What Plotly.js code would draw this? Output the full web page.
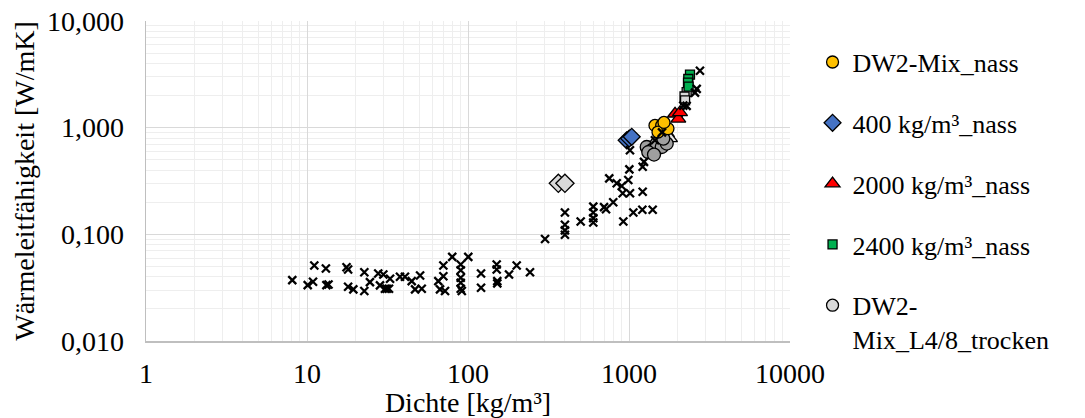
<!DOCTYPE html>
<html>
<head>
<meta charset="utf-8">
<script src="https://cdn.plot.ly/plotly-3.0.1.min.js"></script>
<style>
  html, body { margin: 0; padding: 0; background: #fff; }
  #chart { width: 1085px; height: 418px; }
</style>
</head>
<body>
<div id="chart"></div>
<script>
// Literaturwerte (Kreuze): Dichte [kg/m³] und Wärmeleitfähigkeit [W/mK]
const litDichte = [8.1, 10.1, 10.9, 11.1, 13.1, 13.6, 13.2, 17.6, 18.0, 18.0, 19.4, 22.7, 22.7, 24.6, 27.7, 28.4,
  29.8, 30.5, 31.3, 32.3, 32.8, 37.8, 40.6, 44.7, 46.9, 50.4, 51.6, 65.4, 70.3, 70.3, 67.0, 72.0, 79.8,
  90.1, 90.1, 90.1, 90.1, 90.1, 91.5, 100.4, 120.5, 120.5, 150.7, 150.7, 152, 152, 179.8, 200.6, 242.7,
  301, 400, 400, 400, 400, 501, 600, 600, 600, 600, 700, 720, 798, 754, 839, 901, 914, 922, 990, 1014,
  1005, 1216, 1064, 1210, 1403, 1216, 1239, 1014, 1449, 1603, 2174, 2759, 2633, 2570, 2280];
const litLambda = [0.0372, 0.0334, 0.0359, 0.0510, 0.0478, 0.0339, 0.0334, 0.0492, 0.0468, 0.0323, 0.0305, 0.0441, 0.0294, 0.0356, 0.0429, 0.0332,
  0.0420, 0.0309, 0.0309, 0.0309, 0.0383, 0.0400, 0.0400, 0.0364, 0.0305, 0.0411, 0.0309, 0.0364, 0.0510, 0.0405, 0.0305, 0.0294, 0.0614,
  0.0521, 0.0461, 0.0392, 0.0352, 0.0309, 0.0294, 0.0614, 0.0429, 0.0316, 0.0521, 0.0468, 0.0364, 0.0347, 0.0420, 0.0510, 0.0441,
  0.0904, 0.160, 0.123, 0.109, 0.099, 0.132, 0.182, 0.160, 0.142, 0.129, 0.180, 0.172, 0.200, 0.335, 0.301, 0.284, 0.243, 0.132, 0.323, 0.243,
  0.406, 0.251, 0.160, 0.170, 0.170, 0.430, 0.478, 0.614, 0.762, 0.904, 1.61, 3.42, 2.31, 2.13, 1.60];

// DW2-Mix nass
const dw2NassDichte = [1450, 1596, 1514, 1746, 1649];
const dw2NassLambda = [1.05, 1.05, 0.91, 0.98, 1.12];

// 400 kg/m³ nass
const d400NassDichte = [967, 1003, 1040];
const d400NassLambda = [0.762, 0.79, 0.821];

// 2000 kg/m³ nass
const d2000NassDichte = [1932, 2025, 2075];
const d2000NassLambda = [1.35, 1.21, 1.39];

// 2400 kg/m³ nass
const d2400NassDichte = [2392, 2335, 2325, 2345];
const d2400NassLambda = [3.14, 2.86, 2.64, 2.43];

// DW2-Mix_L4/8 trocken
const dw2TrockenDichte = [1288, 1384, 1486, 1597, 1715, 1633, 1318, 1430];
const dw2TrockenLambda = [0.659, 0.614, 0.710, 0.659, 0.710, 0.790, 0.589, 0.56];

// trockene Vergleichsproben (ohne Legendeneintrag)
const d400TrockenDichte = [364, 400];
const d400TrockenLambda = [0.301, 0.301];
const d2000TrockenDichte = [1721, 1798];
const d2000TrockenLambda = [0.885, 0.795];
const d2400TrockenDichte = [2281, 2213, 2230];
const d2400TrockenLambda = [2.15, 1.96, 1.80];

// Achsenbeschriftungen
const xTickVals = [1, 10, 100, 1000, 10000];
const xTickText = ['1', '10', '100', '1000', '10000'];
const yTickVals = [0.01, 0.1, 1, 10];
const yTickText = ['0,010', '0,100', '1,000', '10,000'];

// Nebengitter: 2..9 je Dekade
function minorVals(lo, hi) {
  const v = [];
  for (let e = lo; e < hi; e++) for (let m = 2; m <= 9; m++) v.push(m * Math.pow(10, e));
  return v;
}

const FONT = "'Liberation Serif', 'Times New Roman', serif";
const FS = 28;
const edge = { color: '#000', width: 1.3 };

function series(name, x, y, symbol, size, color, showlegend, group) {
  return {
    type: 'scatter', mode: 'markers', name: name, x: x, y: y,
    showlegend: showlegend, legendgroup: group,
    marker: { symbol: symbol, size: size, color: color, line: edge }
  };
}

const traces = [
  series('400 kg/m³_trocken', d400TrockenDichte, d400TrockenLambda, 'diamond', 14, '#d9d9d9', false, 'h1'),
  series('2000 kg/m³_trocken', d2000TrockenDichte, d2000TrockenLambda, 'triangle-up', 13, '#e6e6e6', false, 'h2'),
  series('2400 kg/m³_trocken', d2400TrockenDichte, d2400TrockenLambda, 'square', 9, '#d9d9d9', false, 'h3'),
  series('DW2-Mix_L4/8_trocken', dw2TrockenDichte, dw2TrockenLambda, 'circle', 13, '#a0a0a0', false, 'g5'),
  series('DW2-Mix_nass', dw2NassDichte, dw2NassLambda, 'circle', 12, '#ffc000', true, 'g1'),
  series('400 kg/m³_nass', d400NassDichte, d400NassLambda, 'diamond', 13, '#4472c4', true, 'g2'),
  series('2000 kg/m³_nass', d2000NassDichte, d2000NassLambda, 'triangle-up', 13, '#ff0000', true, 'g3'),
  series('2400 kg/m³_nass', d2400NassDichte, d2400NassLambda, 'square', 9, '#00b050', true, 'g4'),
  {
    type: 'scatter', mode: 'markers', name: 'DW2-<br>Mix_L4/8_trocken',
    x: [null], y: [null], showlegend: true, legendgroup: 'g5',
    marker: { symbol: 'circle', size: 12, color: '#d9d9d9', line: edge }
  },
  {
    type: 'scatter', mode: 'markers', name: 'Literatur', x: litDichte, y: litLambda,
    showlegend: false,
    marker: { symbol: 'x-thin', size: 8, line: { color: '#000', width: 2.3 } }
  }
];

const layout = {
  width: 1085, height: 418,
  margin: { l: 146, r: 295, t: 21, b: 77 },
  paper_bgcolor: '#fff', plot_bgcolor: '#fff',
  font: { family: FONT, size: FS, color: '#000' },
  showlegend: true,
  legend: {
    x: 1.035, xanchor: 'left', y: 0.945, yanchor: 'top',
    traceorder: 'grouped', tracegroupgap: 24, valign: 'top',
    font: { family: FONT, size: 26, color: '#000' },
    bgcolor: 'rgba(0,0,0,0)'
  },
  xaxis: {
    type: 'log', range: [0, 4],
    tickmode: 'array', tickvals: xTickVals, ticktext: xTickText,
    tickfont: { family: FONT, size: FS },
    ticks: '', ticklabelstandoff: 7,
    showgrid: true, gridcolor: '#d9d9d9', gridwidth: 1,
    minor: { tickmode: 'array', tickvals: minorVals(0, 4), showgrid: true, gridcolor: '#eeeeee', gridwidth: 1 },
    showline: true, linecolor: '#bfbfbf', linewidth: 1.5,
    zeroline: false,
    title: { text: 'Dichte [kg/m³]', standoff: 4, font: { family: FONT, size: FS } }
  },
  yaxis: {
    type: 'log', range: [-2, 1],
    tickmode: 'array', tickvals: yTickVals, ticktext: yTickText,
    tickfont: { family: FONT, size: FS },
    ticks: '', ticklabelstandoff: 15,
    showgrid: true, gridcolor: '#d9d9d9', gridwidth: 1,
    minor: { tickmode: 'array', tickvals: minorVals(-2, 1), showgrid: true, gridcolor: '#eeeeee', gridwidth: 1 },
    showline: true, linecolor: '#bfbfbf', linewidth: 1.5,
    zeroline: false,
    title: { text: 'Wärmeleitfähigkeit [W/mK]', standoff: 4, font: { family: FONT, size: FS } }
  }
};

Plotly.newPlot('chart', traces, layout, { displayModeBar: false, staticPlot: true });
</script>
</body>
</html>
